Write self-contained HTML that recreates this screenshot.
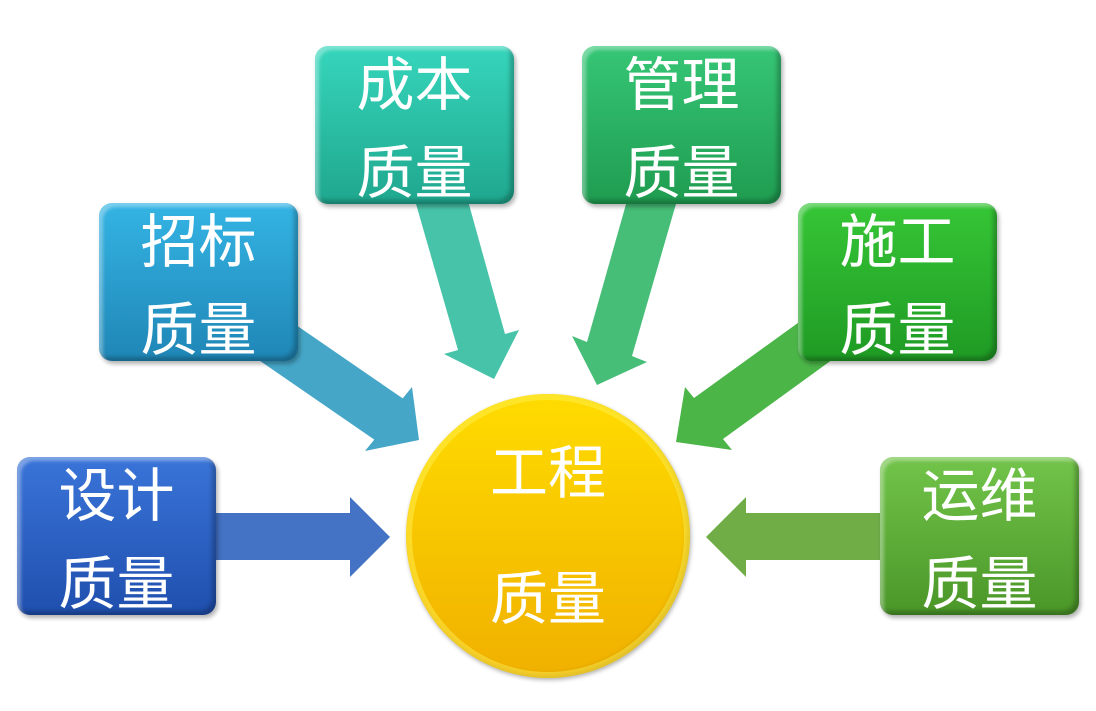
<!DOCTYPE html>
<html><head><meta charset="utf-8"><style>
body{margin:0;width:1096px;height:711px;background:#fff;overflow:hidden;position:relative;font-family:"Liberation Sans","Noto Sans CJK SC",sans-serif}
svg{position:absolute;left:0;top:0}
.b{position:absolute;width:199px;height:158px;border-radius:13px;box-shadow:inset 4px 4px 3px rgba(255,255,255,.35),inset -4px -4px 4px rgba(0,0,0,.25),2px 3px 4px rgba(0,0,0,.3);color:#fff;font-size:58px;line-height:88px;text-align:center}
.b span{position:relative;top:-4px}
.c{position:absolute;left:406px;top:394px;width:284px;height:284px;border-radius:50%;background:linear-gradient(#ffdc00,#f0b000);box-shadow:inset 0 0 0 6px rgba(255,240,80,.5),inset -3px -3px 6px rgba(0,0,0,.2),1px 2px 4px rgba(0,0,0,.3);color:#fff;font-size:58px;text-align:center}
</style></head><body>
<svg width="1096" height="711">
<polygon points="200,513 350,513 350,497 390,537 350,577 350,560 200,560" fill="#4472c4"/>
<polygon points="900,513 746,513 746,497 706,537 746,577 746,560 900,560" fill="#70ad47"/>
<polygon points="262.6,302 402.7,398.4 412,387 419,440 365,451 374.3,439.6 234,343" fill="#45a6c7"/>
<polygon points="412,190 465,190 505,334 519,330 494,379 444,354 458,350" fill="#47c3a9"/>
<polygon points="630,190 680,190 632,356 647,362 597,385 572,336 587,342" fill="#47be78"/>
<polygon points="860.7,339 723,439 732,450 676,442 685,387 694,398 831.4,298.8" fill="#4bb548"/>
</svg>
<div class="b" style="left:17px;top:457px;background:linear-gradient(#3a74d8,#1f4fae)"><span>设计<br>质量</span></div>
<div class="b" style="left:99px;top:203px;background:linear-gradient(#34b4e4,#1f86b6)"><span>招标<br>质量</span></div>
<div class="b" style="left:315px;top:46px;background:linear-gradient(#36d6bc,#1fa78e)"><span>成本<br>质量</span></div>
<div class="b" style="left:582px;top:46px;background:linear-gradient(#36c676,#1f9c50)"><span>管理<br>质量</span></div>
<div class="b" style="left:798px;top:203px;background:linear-gradient(#36c636,#1f9a24)"><span>施工<br>质量</span></div>
<div class="b" style="left:880px;top:457px;background:linear-gradient(#72c44a,#4a9628)"><span>运维<br>质量</span></div>
<div class="c"><div style="position:absolute;left:0;right:0;top:48px;line-height:64px">工程</div><div style="position:absolute;left:0;right:0;top:174px;line-height:64px">质量</div></div>
</body></html>
